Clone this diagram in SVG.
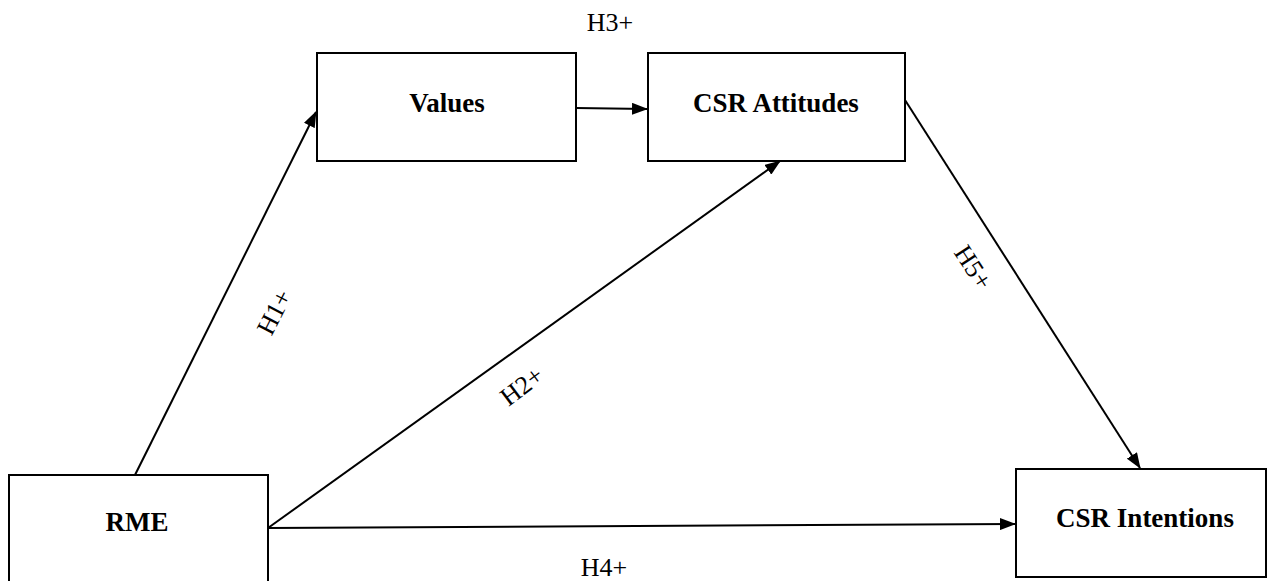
<svg xmlns="http://www.w3.org/2000/svg" width="1269" height="581" viewBox="0 0 1269 581">
<style>
.box{fill:#fff;stroke:#000;stroke-width:2}
.lbl{font-family:"Liberation Serif",serif;font-weight:bold;font-size:27px;text-anchor:middle;fill:#000}
.hyp{font-family:"Liberation Serif",serif;font-size:26px;text-anchor:middle;fill:#000}
.edge{stroke:#000;stroke-width:2;fill:none;marker-end:url(#ah)}
</style>
<defs>
<marker id="ah" markerWidth="16" markerHeight="12" refX="15" refY="6" orient="auto" markerUnits="userSpaceOnUse">
<path d="M0,0 L16,6 L0,12 z" fill="#000"/>
</marker>
</defs>
<g id="rme"><rect class="box" x="9" y="475" width="259" height="120"/><text class="lbl" x="137" y="531">RME</text></g>
<g id="values"><rect class="box" x="317" y="53" width="259" height="108"/><text class="lbl" x="447" y="112">Values</text></g>
<g id="attitudes"><rect class="box" x="648" y="53" width="257" height="108"/><text class="lbl" x="776" y="112">CSR Attitudes</text></g>
<g id="intentions"><rect class="box" x="1016" y="469" width="250" height="108"/><text class="lbl" x="1145" y="527">CSR Intentions</text></g>
<g id="connectors">
<line class="edge" x1="135" y1="475" x2="316" y2="112"/>
<line class="edge" x1="576" y1="108" x2="647" y2="109"/>
<line class="edge" x1="268" y1="528" x2="780" y2="161"/>
<line class="edge" x1="268" y1="528" x2="1015" y2="524"/>
<line class="edge" x1="905" y1="100" x2="1140" y2="468"/>
</g>
<g id="labels">
<text class="hyp" x="610" y="31">H3+</text>
<text class="hyp" x="604" y="576">H4+</text>
<text class="hyp" transform="translate(282,316) rotate(-63)">H1+</text>
<text class="hyp" transform="translate(527,393) rotate(-37)">H2+</text>
<text class="hyp" transform="translate(966,272) rotate(57)">H5+</text>
</g>
</svg>
